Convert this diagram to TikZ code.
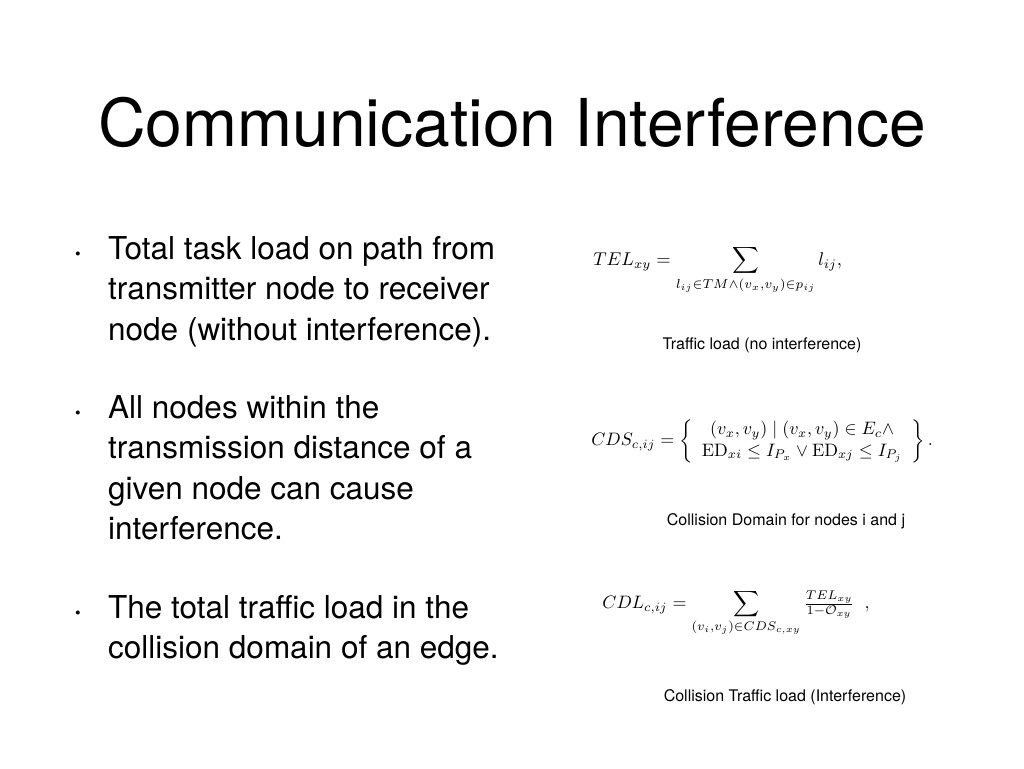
\documentclass[tikz,border=0pt]{standalone}
\usepackage{amsmath,amssymb}
\usepackage{fontspec}
\setmainfont{TeX Gyre Heros}
\newfontfamily\lmr{Latin Modern Roman}
\begin{document}
\begin{tikzpicture}[x=1pt,y=-1pt,
  bul/.style={anchor=north west,align=left,font=\fontsize{31.5}{40.5}\selectfont,inner sep=0},
  dot/.style={anchor=center,font=\fontsize{16}{16}\selectfont,inner sep=0},
  captxt/.style={anchor=center,font=\fontsize{16}{18}\selectfont,inner sep=0},
  eq/.style={anchor=west,inner sep=0}]
\useasboundingbox (0,0) rectangle (1024,768);
\node[anchor=center,font=\fontsize{66}{70}\selectfont,inner sep=0] (title) at (512,122) {Communication Interference};
\node[dot] (d1) at (78,256) {•};
\node[bul] (b1) at (108,236) {Total task load on path from\\transmitter node to receiver\\node (without interference).};
\node[dot] (d2) at (78,415) {•};
\node[bul] (b2) at (108,395) {All nodes within the\\transmission distance of a\\given node can cause\\interference.};
\node[dot] (d3) at (78,615) {•};
\node[bul] (b3) at (108,595) {The total traffic load in the\\collision domain of an edge.};
\node[eq,scale=1.85] (e1) at (593,270) {$\displaystyle TEL_{xy}=\sum_{l_{ij}\in TM\wedge(v_x,v_y)\in p_{ij}} l_{ij},$};
\node[captxt] (c1) at (762,345) {Traffic load (no interference)};
\node[eq,scale=1.8] (e2) at (591,441) {$CDS_{c,ij}=\left\{\begin{array}{c}(v_x,v_y)\mid(v_x,v_y)\in E_c\wedge\\ \text{\lmr ED}_{xi}\le I_{P_x}\vee\text{\lmr ED}_{xj}\le I_{P_j}\end{array}\right\}.$};
\node[captxt] (c2) at (786,521) {Collision Domain for nodes i and j};
\node[eq,scale=1.8] (e3) at (602,613) {$\displaystyle CDL_{c,ij}=\sum_{(v_i,v_j)\in CDS_{c,xy}}\tfrac{TEL_{xy}}{1-\mathcal{O}_{xy}}\;\;,$};
\node[captxt] (c3) at (785,697) {Collision Traffic load (Interference)};
\end{tikzpicture}
\end{document}
